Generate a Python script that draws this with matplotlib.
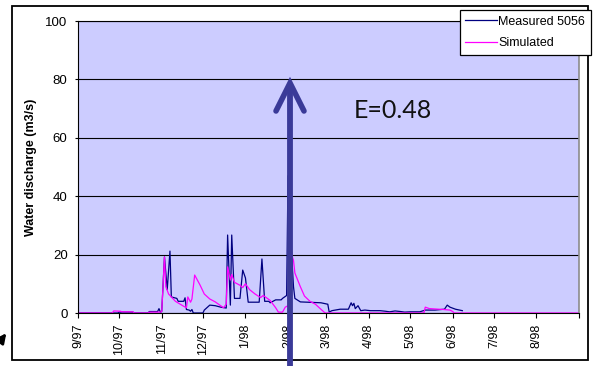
import numpy as np
import pandas as pd
import matplotlib
matplotlib.use('Agg')
import matplotlib.pyplot as plt
import matplotlib.dates as mdates
from matplotlib.patches import Rectangle

plt.rcParams['font.family'] = ['Liberation Sans', 'DejaVu Sans']

# measured discharge 5056 (m3/s)
meas_dates = ['1997-09-01', '1997-09-30', '1997-10-01', '1997-10-11', '1997-10-12', '1997-10-22',
              '1997-10-23', '1997-10-29', '1997-10-30', '1997-10-31', '1997-11-01', '1997-11-03',
              '1997-11-05', '1997-11-07', '1997-11-08', '1997-11-12', '1997-11-13', '1997-11-17',
              '1997-11-18', '1997-11-19', '1997-11-21', '1997-11-22', '1997-11-23', '1997-11-24',
              '1997-12-01', '1997-12-02', '1997-12-06', '1997-12-10', '1997-12-14', '1997-12-18',
              '1997-12-19', '1997-12-21', '1997-12-22', '1997-12-24', '1997-12-28', '1997-12-30',
              '1998-01-01', '1998-01-03', '1998-01-11', '1998-01-13', '1998-01-15', '1998-01-18',
              '1998-01-19', '1998-01-23', '1998-01-27', '1998-01-28', '1998-01-31', '1998-02-01',
              '1998-02-03', '1998-02-05', '1998-02-06', '1998-02-10', '1998-02-25', '1998-03-02',
              '1998-03-03', '1998-03-05', '1998-03-11', '1998-03-17', '1998-03-19', '1998-03-20',
              '1998-03-21', '1998-03-22', '1998-03-24', '1998-03-26', '1998-03-29', '1998-04-02',
              '1998-04-09', '1998-04-13', '1998-04-16', '1998-04-20', '1998-04-24', '1998-04-27',
              '1998-05-01', '1998-05-08', '1998-05-12', '1998-05-19', '1998-05-26', '1998-05-28',
              '1998-05-30', '1998-06-03', '1998-06-06', '1998-06-08']
meas_vals = [0, 0, 0.3, 0.3, 0, 0,
             0.5, 0.5, 1.5, 0.3, 0.5, 19.2,
             8, 21.2, 5.5, 5, 4, 4,
             5.2, 1.2, 1, 0.6, 1.2, 0,
             0, 1, 2.7, 2.5, 2, 1.7,
             26.7, 2.7, 26.7, 5, 5, 14.7,
             12, 3.7, 3.7, 18.5, 4, 4,
             3.5, 4.5, 4.5, 5, 6, 47,
             25, 9, 5, 3.8, 3.5, 3,
             0.3, 0.8, 1.3, 1.3, 3.5, 2.5,
             3.3, 1.5, 2.5, 0.8, 1, 0.8,
             0.8, 0.6, 0.4, 0.7, 0.5, 0.3,
             0.4, 0.4, 1, 1, 1.3, 2.7,
             2, 1.3, 1, 0.8]

# simulated discharge
sim_dates = ['1997-09-01', '1997-09-26', '1997-09-27', '1997-10-02', '1997-10-03', '1997-10-11',
             '1997-10-12', '1997-10-22', '1997-10-23', '1997-10-31', '1997-11-01', '1997-11-03',
             '1997-11-04', '1997-11-06', '1997-11-11', '1997-11-17', '1997-11-19', '1997-11-20',
             '1997-11-22', '1997-11-23', '1997-11-25', '1997-11-29', '1997-12-02', '1997-12-06',
             '1997-12-10', '1997-12-13', '1997-12-16', '1997-12-18', '1997-12-19', '1997-12-21',
             '1997-12-22', '1997-12-24', '1997-12-28', '1997-12-30', '1998-01-01', '1998-01-04',
             '1998-01-08', '1998-01-12', '1998-01-14', '1998-01-19', '1998-01-23', '1998-01-25',
             '1998-01-28', '1998-01-30', '1998-02-01', '1998-02-03', '1998-02-05', '1998-02-06',
             '1998-02-10', '1998-02-13', '1998-02-17', '1998-02-21', '1998-02-24', '1998-02-28',
             '1998-05-11', '1998-05-12', '1998-05-15', '1998-05-25', '1998-05-30', '1998-06-01',
             '1998-06-02', '1998-09-01']
sim_vals = [0, 0, 0.7, 0.6, 0.4, 0.4,
            0, 0, 0.3, 0.3, 0.5, 19.2,
            9, 6.5, 4, 2.3, 1.8, 5.5,
            3.7, 4.8, 13, 9.5, 6.5, 4.8,
            3.8, 2.8, 1.8, 3, 15.8, 11.3,
            13.2, 10.5, 9.5, 8.7, 10, 8,
            6.5, 5.3, 6, 4.3, 1.8, 0.3,
            0.3, 2, 2.5, 21, 18, 13.7,
            9, 5.8, 4, 3, 1.7, 0,
            0, 2, 1.5, 1.2, 1, 0.5,
            0, 0]

yticks = [0, 20, 40, 60, 80, 100]
x_start, x_end = '1997-09-01', '1998-09-01'

W, H = 594, 366
fig = plt.figure(figsize=(W / 100, H / 100), dpi=100)
ax = fig.add_axes([78 / W, 1 - 313 / H, 501 / W, 292 / H])
ax.set_facecolor('#ccccff')

ax.plot(pd.to_datetime(meas_dates), meas_vals, color='#000080', lw=0.9, label='Measured 5056')
ax.plot(pd.to_datetime(sim_dates), sim_vals, color='#ff00ff', lw=0.9, label='Simulated')

ax.set_xlim(pd.Timestamp(x_start), pd.Timestamp(x_end))
ax.set_ylim(0, 100)
ax.set_yticks(yticks)
ax.yaxis.grid(True, color='black', lw=0.8)
ax.set_axisbelow(True)
ax.xaxis.set_major_locator(mdates.MonthLocator())
last = mdates.date2num(pd.Timestamp(x_end))


def month_label(v, p):
    if v >= last - 0.5:
        return ''
    d = mdates.num2date(v)
    return '%d/%s' % (d.month, d.strftime('%y'))


ax.xaxis.set_major_formatter(plt.FuncFormatter(month_label))
ax.tick_params(axis='x', labelrotation=90, labelsize=9, length=3.5, width=0.8, pad=4)
ax.tick_params(axis='y', labelsize=9.5, length=2.5, width=0.8, pad=5)
for s in ['left', 'bottom', 'top']:
    ax.spines[s].set_color('black')
    ax.spines[s].set_linewidth(0.8)
ax.spines['right'].set_color('#8c8c8c')
ax.spines['right'].set_linewidth(1.2)
ax.set_ylabel('Water discharge (m3/s)', fontsize=9, fontweight='bold', labelpad=6)

# overlay in pixel coords for the frame, arrows and note
ov = fig.add_axes([0, 0, 1, 1], zorder=2)
ov.set_xlim(0, W)
ov.set_ylim(H, 0)
ov.axis('off')
ov.add_patch(Rectangle((12, 6), 576, 354, fill=False, ec='black', lw=1.3))
ac = '#3a3a98'
ov.plot([290, 290], [H + 5, 84], color=ac, lw=4.2, solid_capstyle='butt')
ov.plot([276, 290, 304], [111, 83, 111], color=ac, lw=4.0, solid_capstyle='round',
        solid_joinstyle='miter')
ov.text(354, 110, 'E=0.48', fontsize=18, family=['Lato', 'DejaVu Sans'], color='#111111',
        ha='left', va='center')
ov.annotate('', xy=(8, 331), xytext=(-8, 352),
            arrowprops=dict(arrowstyle='-|>', color='black', lw=2, mutation_scale=14))

leg = fig.legend(loc='upper right', bbox_to_anchor=(591 / W, 1 - 10 / H), fontsize=9,
                 frameon=True, fancybox=False, framealpha=1, edgecolor='black',
                 handlelength=2.5, handletextpad=0.15, borderpad=0.45, labelspacing=0.75,
                 borderaxespad=0)
leg.get_frame().set_linewidth(0.9)
leg.set_zorder(5)

fig.savefig('out.png', dpi=100)
